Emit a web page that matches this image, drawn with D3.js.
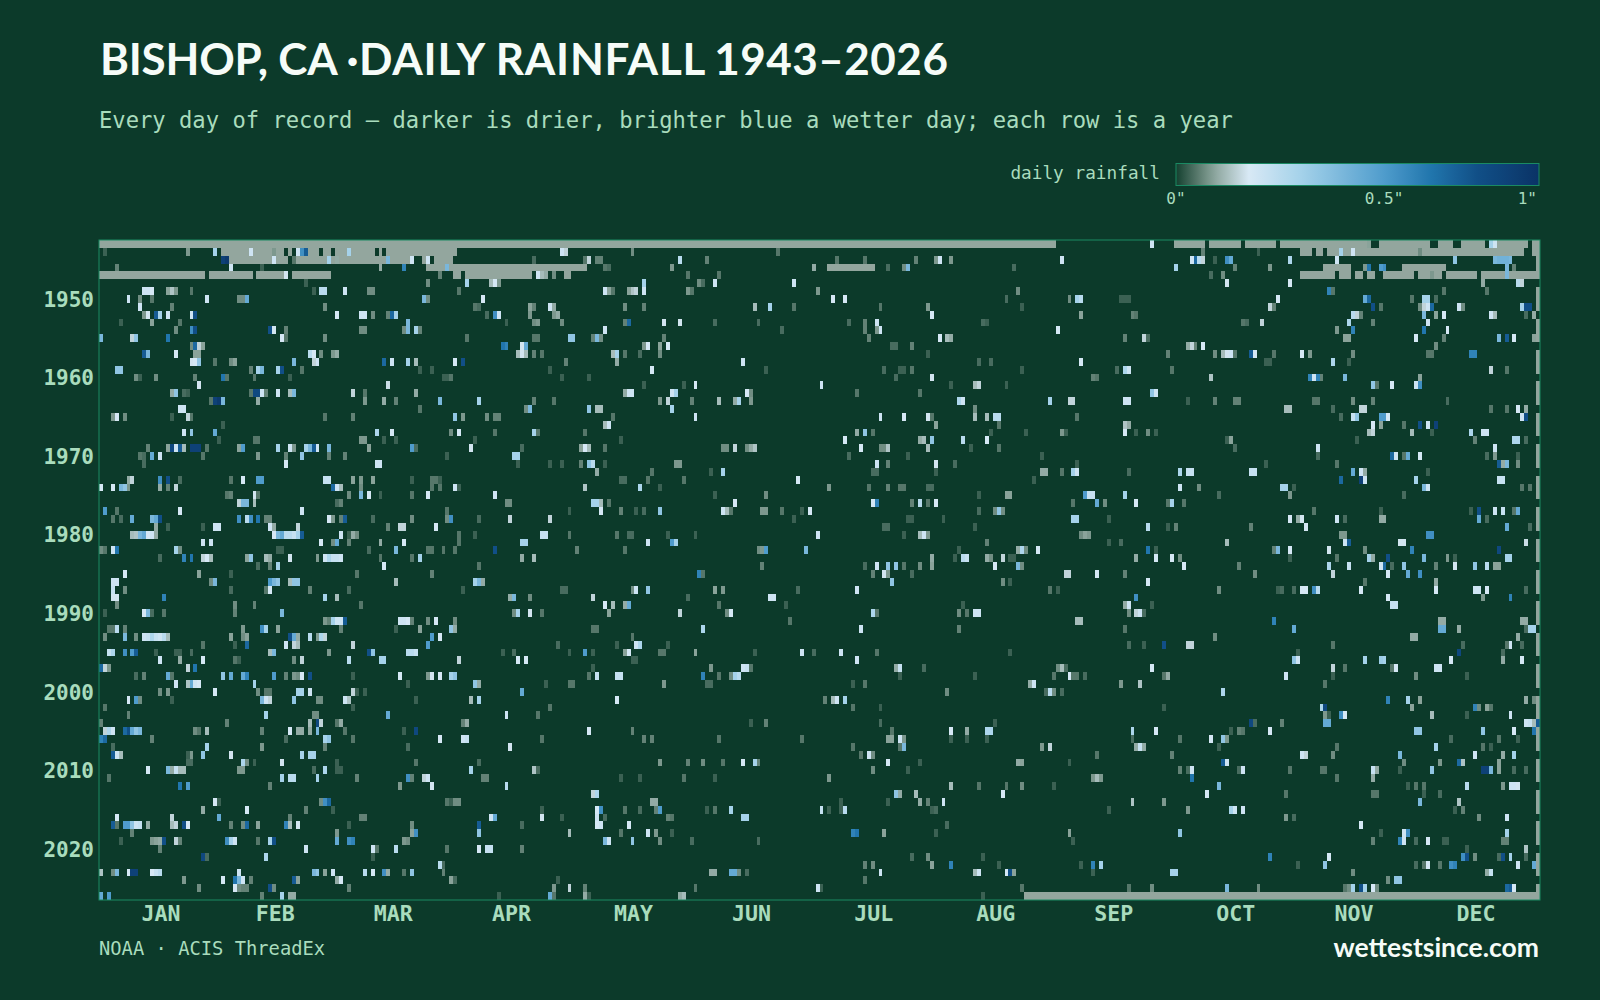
<!DOCTYPE html>
<html>
<head>
<meta charset="utf-8">
<title>Bishop, CA daily rainfall</title>
<script src="https://cdn.jsdelivr.net/npm/d3@7"></script>
<style>
  html, body { margin: 0; background: #0c3a2a; }
  svg { display: block; }
</style>
</head>
<body>
<svg id="chart" width="1600" height="1000"></svg>
<script>
const months = ["JAN","FEB","MAR","APR","MAY","JUN","JUL","AUG","SEP","OCT","NOV","DEC"];
const monthMidDays = [15,44,74,104,135,165,196,227,257,288,318,349];
const years = d3.range(1943, 2027);
const yearTicks = [1950,1960,1970,1980,1990,2000,2010,2020];
const legendTicks = [0, 0.5, 1];

// days with no record: [year, first day, last day], day 0 = Jan 1
const missingSpans = [
  [1943,0,242],[1943,273,280],[1943,282,289],[1943,291,298],[1943,300,322],[1943,325,337],[1943,340,343],[1943,346,351],[1943,355,362],[1943,364,365],
  [1944,31,37],[1944,39,43],[1944,45,46],[1944,48,48],[1944,53,55],[1944,57,58],[1944,60,62],[1944,64,69],[1944,71,71],[1944,73,90],[1944,305,307],[1944,309,310],[1944,312,314],[1944,316,317],[1944,319,334],[1944,336,361],[1944,364,365],
  [1945,33,43],[1945,45,47],[1945,50,57],[1945,59,59],[1945,61,72],[1945,74,78],[1945,82,82],[1945,85,89],
  [1946,83,87],[1946,89,123],[1946,185,196],[1946,311,317],[1946,331,341],
  [1947,0,26],[1947,28,38],[1947,40,46],[1947,49,58],[1947,90,91],[1947,93,109],[1947,118,119],[1947,305,313],[1947,315,317],[1947,319,320],[1947,322,323],[1947,326,333],[1947,335,337],[1947,339,340],[1947,342,349],[1947,351,356],[1947,358,365],
  [2026,235,365]
];

// wet days per year: [day, inches]
const rain1940s = [
  [[267,.2],[322,.09],[353,.3],[354,.2]],
  [[1,.03],[22,.08],[29,.3],[38,.2],[44,.08],[50,.2],[51,.55],[52,.75],[63,.3],[117,.2],[118,.15],[135,.07],[172,.05],[280,.06],[294,.03],[315,.3],[318,.2],[335,.07]],
  [[31,.9],[32,.95],[44,.2],[49,.05],[58,.3],[60,.1],[73,.4],[79,.2],[83,.2],[110,.04],[123,.05],[124,.15],[126,.06],[127,.06],[147,.25],[154,.06],[187,.05],[194,.05],[207,.06],[212,.08],[213,.2],[216,.08],[244,.2],[277,.2],[278,.7],[279,.25],[280,.15],[283,.03],[286,.55],[287,.45],[302,.28],[314,.2],[344,.35],[354,.4],[355,.42],[356,.42],[357,.42],[358,.4]],
  [[4,.06],[33,.2],[41,.03],[71,.1],[77,.6],[88,.4],[128,.05],[129,.04],[145,.08],[181,.1],[200,.04],[204,.07],[205,.4],[232,.04],[273,.3],[288,.06],[297,.08],[321,.08],[322,.65],[325,.5],[326,.55],[357,.4],[359,.06]],
  [[47,.17],[86,.06],[111,.2],[112,.12],[113,.1],[115,.07],[149,.05],[157,.05],[282,.04],[285,.07],[338,.08],[357,.4]],
  [[52,.03],[83,.07],[93,.3],[99,.12],[100,.18],[101,.08],[138,.3],[152,.07],[153,.04],[156,.2],[176,.2],[286,.17],[302,.18],[351,.1],[360,.25],[361,.15]],
  [[11,.2],[12,.2],[13,.18],[17,.09],[18,.13],[19,.08],[23,.05],[54,.03],[56,.25],[57,.25],[62,.2],[68,.07],[69,.07],[91,.05],[128,.2],[129,.09],[130,.05],[134,.09],[135,.13],[136,.15],[138,.2],[149,.08],[150,.05],[182,.08],[233,.07],[312,.6],[313,.05],[341,.05],[352,.05]]
];
const rain1950s = [
  [[7,.2],[10,.07],[13,.05],[27,.2],[35,.07],[36,.07],[37,.45],[82,.4],[83,.07],[97,.18],[186,.18],[189,.18],[230,.04],[246,.07],[248,.3],[249,.25],[259,.03],[260,.03],[261,.03],[299,.18],[321,.45],[322,.7],[333,.05],[336,.3],[337,.3],[339,.04]],
  [[10,.2],[18,.06],[57,.07],[95,.05],[96,.04],[109,.09],[110,.06],[114,.2],[115,.1],[133,.07],[138,.06],[166,.12],[170,.3],[176,.05],[198,.05],[210,.08],[234,.03],[297,.15],[298,.06],[323,.8],[325,.05],[335,.07],[336,.15],[337,.2],[338,.7],[345,.2],[346,.07],[361,.3],[362,.8],[363,.8]],
  [[11,.08],[12,.17],[14,.75],[15,.3],[17,.2],[23,.2],[24,.8],[60,.18],[66,.2],[67,.2],[69,.07],[73,.06],[74,.7],[75,.3],[98,.04],[100,.55],[101,.2],[109,.08],[115,.08],[116,.1],[211,.18],[249,.09],[262,.06],[263,.05],[318,.25],[319,.15],[320,.06],[336,.4],[339,.09],[341,.18],[353,.2],[354,.12],[362,.04],[364,.1]],
  [[5,.03],[13,.09],[20,.05],[78,.4],[103,.03],[110,.07],[111,.08],[117,.07],[133,.06],[134,.7],[143,.17],[147,.17],[156,.04],[167,.04],[190,.04],[194,.06],[197,.2],[224,.04],[225,.03],[290,.05],[291,.04],[295,.15],[317,.28],[323,.06],[337,.2]],
  [[19,.07],[23,.55],[24,.8],[43,.8],[44,.17],[47,.06],[66,.07],[67,.07],[77,.07],[78,.4],[80,.3],[81,.06],[128,.2],[173,.04],[194,.06],[197,.08],[198,.2],[243,.18],[314,.08],[318,.6],[336,.65],[342,.18]],
  [[0,.4],[8,.15],[9,.35],[17,.65],[46,.18],[47,.05],[57,.07],[93,.05],[110,.05],[111,.05],[119,.35],[120,.35],[125,.06],[126,.4],[127,.07],[143,.06],[195,.06],[213,.18],[215,.12],[216,.1],[260,.06],[265,.15],[266,.04],[316,.09],[317,.09],[334,.18],[341,.06],[355,.4],[357,.75],[359,.18],[364,.09]],
  [[23,.07],[24,.7],[25,.15],[26,.09],[102,.65],[103,.6],[107,.17],[108,.45],[138,.08],[139,.18],[142,.09],[144,.18],[201,.04],[202,.04],[206,.06],[276,.1],[277,.15],[278,.06],[280,.18],[339,.07]],
  [[11,.75],[12,.4],[19,.18],[24,.09],[25,.09],[53,.25],[54,.18],[56,.07],[59,.08],[60,.1],[106,.12],[107,.17],[108,.12],[110,.06],[112,.05],[130,.12],[131,.3],[133,.05],[137,.04],[142,.07],[210,.03],[271,.06],[283,.07],[285,.12],[286,.17],[287,.2],[288,.05],[292,.75],[293,.18],[298,.05],[305,.18],[307,.08],[318,.07],[337,.05],[338,.05],[348,.6],[349,.6]],
  [[23,.17],[24,.18],[25,.35],[29,.05],[33,.07],[34,.09],[49,.4],[54,.15],[55,.2],[72,.7],[74,.2],[78,.3],[80,.12],[90,.18],[92,.8],[118,.06],[131,.1],[163,.2],[223,.04],[226,.04],[249,.18],[296,.03],[297,.03],[313,.28],[317,.03]],
  [[4,.35],[5,.35],[38,.06],[40,.3],[41,.4],[45,.3],[46,.8],[51,.05],[81,.03],[84,.03],[114,.03],[140,.18],[169,.03],[199,.04],[203,.03],[204,.03],[206,.05],[234,.03],[258,.04],[260,.28],[261,.2],[272,.05],[353,.15],[357,.05]]
];
const rain1960s = [
  [[9,.07],[10,.03],[14,.07],[24,.06],[31,.65],[32,.05],[39,.05],[48,.03],[87,.03],[88,.03],[89,.05],[117,.03],[124,.03],[202,.04],[211,.17],[252,.06],[253,.05],[282,.13],[307,.6],[308,.2],[309,.6],[310,.06],[316,.4],[335,.09]],
  [[25,.17],[73,.16],[138,.03],[148,.03],[151,.18],[183,.2],[216,.03],[222,.12],[223,.15],[230,.03],[323,.35],[324,.05],[328,.18],[334,.2],[335,.55]],
  [[18,.1],[19,.35],[21,.04],[22,.03],[38,.05],[39,.85],[40,.85],[41,.2],[42,.06],[45,.2],[48,.12],[49,.4],[64,.15],[67,.05],[80,.1],[133,.1],[134,.2],[135,.2],[145,.2],[146,.3],[164,.18],[165,.07],[192,.05],[208,.05],[267,.35],[268,.2]],
  [[28,.05],[29,.9],[30,.95],[31,.4],[40,.1],[67,.08],[72,.1],[75,.06],[86,.4],[96,.3],[110,.06],[115,.05],[142,.08],[144,.15],[150,.06],[157,.12],[161,.1],[162,.3],[165,.08],[218,.28],[219,.2],[241,.3],[246,.15],[247,.15],[260,.2],[261,.2],[276,.03],[283,.06],[288,.06],[289,.06],[308,.05],[309,.05],[318,.07],[323,.06],[342,.04]],
  [[20,.2],[21,.2],[81,.05],[108,.07],[109,.4],[124,.35],[126,.12],[127,.12],[145,.3],[222,.07],[301,.12],[302,.12],[313,.04],[320,.15],[321,.15],[353,.05],[357,.05],[360,.18],[362,.1]],
  [[3,.08],[4,.18],[6,.07],[18,.03],[22,.15],[23,.05],[57,.05],[64,.06],[90,.35],[92,.08],[98,.07],[100,.06],[101,.06],[130,.05],[151,.2],[198,.2],[204,.18],[210,.17],[211,.05],[222,.12],[225,.12],[227,.25],[228,.25],[248,.05],[315,.04],[318,.22],[319,.35],[325,.5],[326,.5],[327,.18],[361,.2],[362,.8]],
  [[31,.03],[128,.12],[129,.2],[212,.09],[228,.05],[260,.13],[261,.1],[323,.18],[325,.09],[331,.05],[335,.8],[337,.2],[339,.9]],
  [[21,.2],[23,.35],[29,.45],[70,.28],[74,.18],[89,.07],[91,.18],[100,.05],[110,.3],[111,.05],[123,.05],[192,.1],[194,.35],[196,.05],[226,.03],[235,.03],[244,.08],[245,.03],[260,.18],[263,.03],[266,.07],[268,.03],[322,.12],[323,.15],[333,.12],[338,.03],[348,.28],[351,.2],[352,.2]],
  [[30,.03],[39,.05],[40,.05],[66,.08],[67,.08],[72,.03],[75,.03],[95,.03],[132,.03],[189,.18],[208,.1],[209,.12],[211,.35],[219,.25],[225,.18],[286,.03],[287,.09],[319,.03],[349,.06],[359,.28],[360,.28],[362,.04]],
  [[12,.06],[17,.09],[18,.85],[19,.2],[20,.75],[21,.12],[23,.9],[24,.9],[25,.9],[27,.05],[35,.09],[36,.5],[45,.3],[48,.2],[49,.08],[52,.3],[53,.4],[54,.75],[55,.2],[58,.4],[68,.09],[79,.5],[80,.04],[94,.17],[107,.04],[122,.09],[123,.18],[124,.12],[128,.05],[158,.07],[159,.07],[161,.15],[164,.07],[165,.1],[166,.13],[193,.18],[198,.07],[199,.07],[200,.13],[210,.12],[221,.03],[228,.05],[288,.04],[309,.2],[354,.2]]
];
const rain1970s = [
  [[10,.05],[11,.04],[13,.45],[15,.2],[26,.05],[40,.08],[47,.06],[51,.35],[58,.06],[62,.06],[88,.03],[105,.3],[106,.3],[190,.04],[205,.03],[239,.03],[309,.04],[328,.7],[329,.2],[331,.05],[332,.45],[335,.18],[352,.04],[354,.08],[360,.03]],
  [[11,.04],[47,.18],[70,.2],[71,.2],[106,.03],[114,.03],[117,.03],[122,.06],[124,.35],[125,.25],[128,.03],[146,.08],[147,.08],[197,.2],[200,.06],[212,.17],[217,.04],[248,.03],[296,.03],[314,.05],[355,.75],[356,.1],[357,.4],[360,.07]],
  [[126,.1],[140,.05],[155,.03],[158,.3],[196,.04],[197,.04],[212,.03],[239,.1],[240,.1],[244,.05],[247,.3],[248,.2],[261,.04],[274,.28],[276,.22],[277,.22],[292,.22],[293,.22],[318,.45],[320,.2],[321,.1],[337,.03]],
  [[7,.1],[8,.15],[15,.55],[17,.8],[20,.04],[33,.05],[36,.18],[40,.5],[41,.5],[57,.22],[58,.22],[64,.09],[66,.08],[69,.09],[79,.03],[84,.05],[85,.05],[86,.03],[132,.04],[133,.04],[139,.05],[148,.05],[177,.18],[237,.03],[315,.7],[320,.9],[321,.2],[334,.3],[355,.22],[356,.22]],
  [[0,.18],[3,.18],[5,.4],[6,.35],[7,.08],[15,.1],[17,.06],[19,.15],[59,.7],[60,.2],[61,.12],[66,.07],[84,.05],[86,.05],[90,.2],[91,.03],[123,.13],[137,.28],[142,.03],[185,.08],[195,.05],[200,.06],[203,.05],[204,.05],[210,.04],[211,.04],[274,.2],[279,.07],[300,.3],[301,.3],[303,.03],[336,.4],[337,.2],[361,.05],[363,.05]],
  [[32,.05],[33,.06],[39,.17],[40,.05],[63,.07],[66,.4],[68,.18],[71,.03],[79,.05],[83,.18],[100,.2],[156,.03],[169,.07],[223,.03],[230,.09],[231,.09],[250,.5],[251,.22],[252,.22],[260,.3],[284,.04],[302,.08],[331,.04]],
  [[35,.15],[36,.4],[37,.4],[39,.12],[60,.04],[61,.06],[103,.07],[104,.07],[125,.3],[126,.3],[127,.12],[129,.05],[161,.18],[196,.18],[197,.6],[206,.06],[208,.25],[210,.05],[212,.18],[247,.05],[253,.45],[255,.07],[263,.18],[271,.05],[272,.3],[275,.05]],
  [[1,.5],[4,.05],[20,.18],[51,.2],[88,.05],[119,.03],[127,.18],[132,.06],[136,.03],[138,.04],[142,.35],[158,.2],[159,.12],[160,.05],[168,.08],[169,.08],[173,.05],[178,.03],[180,.18],[223,.04],[227,.07],[228,.35],[229,.07],[308,.05],[325,.03],[348,.03],[350,.8],[354,.2],[356,.22],[359,.05],[360,.45]],
  [[3,.05],[5,.04],[8,.45],[13,.4],[14,.45],[15,.8],[35,.55],[37,.25],[38,.55],[40,.65],[42,.06],[43,.06],[58,.18],[59,.08],[61,.06],[62,.75],[69,.04],[79,.07],[88,.07],[89,.55],[96,.04],[104,.15],[114,.15],[176,.03],[205,.03],[206,.03],[214,.03],[247,.3],[248,.3],[256,.03],[302,.18],[304,.1],[305,.17],[314,.2],[316,.04],[325,.1],[326,.1],[350,.45],[352,.04]],
  [[14,.1],[17,.03],[26,.03],[29,.2],[30,.2],[43,.2],[44,.1],[50,.15],[73,.06],[76,.15],[77,.15],[85,.18],[199,.04],[200,.04],[222,.03],[266,.25],[271,.03],[273,.06],[292,.06],[306,.18],[357,.45],[363,.04]]
];
const rain1980s = [
  [[8,.12],[9,.13],[10,.4],[11,.45],[12,.18],[13,.2],[14,.1],[44,.18],[45,.4],[46,.45],[47,.25],[48,.25],[49,.22],[50,.3],[51,.75],[61,.2],[63,.03],[64,.1],[65,.07],[91,.05],[95,.03],[112,.22],[113,.22],[119,.05],[131,.05],[134,.04],[135,.04],[144,.03],[151,.03],[182,.2],[204,.03],[208,.12],[209,.2],[210,.08],[249,.07],[250,.09],[251,.08],[315,.08],[316,.08],[337,.55],[338,.55]],
  [[26,.2],[28,.2],[56,.18],[59,.07],[60,.45],[63,.06],[71,.1],[77,.18],[91,.05],[107,.3],[108,.3],[139,.2],[145,.5],[146,.3],[225,.06],[256,.03],[259,.04],[286,.12],[316,.2],[317,.75],[330,.17],[331,.17],[362,.16]],
  [[0,.07],[1,.05],[3,.2],[4,.65],[19,.3],[20,.07],[45,.03],[46,.03],[68,.04],[75,.4],[83,.05],[84,.05],[87,.05],[90,.05],[100,.8],[121,.06],[133,.05],[167,.07],[168,.08],[169,.5],[179,.4],[218,.03],[233,.1],[234,.28],[235,.07],[238,.18],[266,.65],[268,.03],[298,.06],[299,.4],[302,.18],[312,.17],[321,.07],[333,.6],[355,.85]],
  [[15,.04],[21,.6],[23,.65],[26,.15],[27,.18],[28,.12],[37,.09],[38,.35],[42,.12],[43,.1],[48,.17],[55,.08],[57,.2],[58,.28],[59,.22],[60,.22],[61,.2],[71,.05],[79,.05],[81,.3],[107,.1],[110,.12],[211,.1],[217,.03],[219,.25],[220,.22],[225,.1],[226,.07],[229,.15],[231,.03],[232,.03],[263,.1],[268,.18],[272,.18],[274,.07],[302,.03],[314,.05],[322,.3],[323,.1],[327,.8],[336,.4],[342,.08],[344,.03],[357,.3],[358,.3]],
  [[40,.04],[43,.06],[45,.3],[72,.18],[96,.05],[168,.06],[194,.04],[197,.2],[200,.35],[202,.35],[204,.05],[208,.07],[211,.09],[227,.18],[233,.4],[234,.07],[275,.18],[289,.06],[312,.28],[317,.22],[325,.2],[326,.7],[328,.04],[331,.35],[339,.06],[344,.17],[349,.35],[352,.25],[354,.09],[355,.09]],
  [[6,.18],[25,.09],[33,.03],[65,.05],[84,.06],[152,.6],[153,.05],[196,.06],[199,.17],[200,.08],[206,.04],[245,.15],[246,.15],[253,.18],[260,.06],[293,.07],[313,.15],[327,.18],[332,.45],[335,.55]],
  [[3,.2],[4,.2],[28,.07],[29,.4],[43,.5],[44,.4],[45,.35],[48,.12],[49,.35],[50,.35],[75,.12],[95,.3],[96,.4],[97,.1],[201,.35],[229,.07],[231,.03],[266,.18],[321,.05],[339,.1]],
  [[3,.22],[6,.07],[33,.04],[42,.05],[43,.18],[53,.06],[63,.04],[92,.03],[117,.04],[118,.04],[135,.07],[136,.2],[139,.35],[156,.09],[158,.08],[177,.04],[192,.2],[241,.05],[243,.03],[284,.07],[299,.03],[300,.04],[303,.04],[305,.18],[306,.18],[308,.55],[309,.25],[320,.18],[339,.18],[349,.2],[350,.2],[352,.18],[362,.04]],
  [[3,.17],[4,.17],[16,.6],[57,.3],[60,.12],[104,.1],[105,.4],[109,.07],[125,.15],[149,.04],[170,.2],[171,.2],[263,.55],[327,.18],[351,.08],[358,.6]],
  [[4,.07],[34,.07],[39,.06],[66,.05],[128,.18],[130,.12],[133,.1],[134,.45],[157,.05],[174,.03],[219,.03],[260,.1],[261,.2],[267,.03],[328,.22],[329,.22]]
];
const rain1990s = [
  [[1,.03],[11,.18],[12,.4],[13,.04],[16,.05],[34,.06],[46,.4],[105,.07],[106,.3],[109,.17],[112,.05],[129,.09],[147,.15],[159,.07],[160,.18],[196,.28],[197,.05],[218,.07],[220,.05],[222,.2],[223,.2],[261,.07],[263,.15],[264,.2],[265,.04]],
  [[57,.08],[58,.06],[59,.3],[60,.2],[61,.2],[62,.75],[76,.2],[77,.2],[78,.18],[79,.06],[83,.07],[85,.18],[90,.07],[175,.05],[248,.12],[249,.12],[298,.6],[340,.1],[341,.1],[361,.1],[362,.1]],
  [[2,.05],[3,.05],[4,.25],[6,.06],[36,.08],[41,.55],[42,.3],[45,.09],[61,.06],[75,.03],[81,.09],[89,.35],[90,.1],[125,.05],[126,.05],[153,.28],[193,.2],[218,.06],[260,.05],[303,.45],[340,.45],[341,.45],[345,.1],[362,.04],[363,.3],[364,.3]],
  [[1,.07],[6,.4],[9,.07],[11,.2],[12,.22],[13,.28],[14,.22],[15,.2],[16,.25],[17,.12],[33,.09],[36,.07],[37,.09],[48,.8],[49,.45],[50,.1],[53,.25],[55,.08],[56,.28],[57,.15],[84,.5],[86,.18],[135,.05],[283,.07],[333,.1],[334,.1],[360,.1]],
  [[26,.05],[34,.03],[37,.7],[47,.2],[49,.15],[50,.12],[64,.15],[83,.5],[116,.04],[131,.03],[136,.2],[137,.28],[144,.03],[261,.04],[265,.03],[270,.8],[276,.15],[277,.15],[313,.05],[346,.04],[357,.05],[358,.2],[361,.04]],
  [[2,.22],[3,.28],[6,.55],[8,.5],[9,.75],[14,.03],[19,.03],[20,.03],[23,.04],[43,.12],[44,.4],[58,.08],[68,.8],[69,.35],[78,.25],[79,.25],[80,.22],[102,.03],[105,.04],[119,.03],[123,.5],[125,.03],[133,.09],[134,.18],[142,.05],[143,.05],[151,.09],[166,.03],[178,.2],[181,.04],[188,.2],[197,.05],[231,.03],[304,.03],[345,.85],[356,.04]],
  [[15,.2],[20,.1],[26,.18],[34,.05],[35,.03],[49,.07],[51,.15],[63,.25],[71,.3],[72,.3],[91,.15],[106,.18],[108,.18],[135,.03],[136,.03],[192,.2],[303,.35],[304,.2],[321,.3],[325,.32],[326,.3],[343,.18],[356,.1],[361,.18]],
  [[0,.7],[1,.15],[2,.08],[22,.15],[24,.65],[125,.03],[155,.08],[163,.2],[164,.22],[165,.05],[202,.1],[203,.22],[209,.04],[243,.07],[244,.12],[245,.04],[267,.18],[313,.15],[316,.05],[328,.05],[329,.18],[339,.2],[340,.2]],
  [[9,.04],[11,.06],[17,.45],[18,.05],[31,.35],[33,.45],[36,.45],[37,.6],[44,.5],[47,.06],[49,.08],[50,.07],[51,.18],[53,.8],[64,.03],[76,.18],[83,.08],[84,.17],[86,.18],[89,.3],[90,.35],[124,.05],[126,.22],[131,.22],[132,.22],[153,.6],[157,.05],[160,.07],[161,.3],[162,.25],[203,.03],[222,.03],[242,.05],[246,.18],[247,.05],[248,.05],[250,.04],[270,.05],[271,.1],[301,.2],[313,.03],[334,.07],[347,.03]],
  [[19,.2],[22,.13],[23,.45],[24,.2],[25,.18],[39,.3],[78,.03],[95,.35],[96,.1],[113,.03],[119,.05],[120,.05],[143,.08],[154,.04],[155,.04],[191,.03],[194,.05],[236,.1],[237,.2],[259,.08],[264,.13],[311,.05]]
];
const rain2000s = [
  [[15,.07],[17,.08],[29,.18],[40,.07],[42,.05],[43,.05],[50,.3],[51,.3],[53,.2],[64,.15],[65,.03],[67,.03],[107,.45],[215,.07],[240,.04],[241,.25],[242,.07],[244,.04],[285,.28]],
  [[7,.18],[9,.5],[10,.07],[18,.03],[41,.4],[42,.2],[43,.15],[49,.35],[55,.07],[56,.07],[62,.2],[63,.13],[80,.03],[94,.12],[96,.3],[131,.18],[184,.06],[186,.12],[187,.2],[189,.3],[327,.6],[332,.3],[335,.09],[362,.1],[364,.07]],
  [[1,.05],[64,.03],[114,.05],[191,.05],[198,.03],[270,.03],[310,.28],[311,.85],[333,.09],[349,.6],[350,.07],[352,.09],[353,.05]],
  [[7,.06],[42,.3],[54,.07],[55,.07],[73,.45],[103,.2],[111,.05],[311,.08],[312,.03],[315,.55],[316,.18],[338,.12],[347,.03],[358,.2]],
  [[0,.06],[32,.06],[53,.12],[55,.85],[56,.15],[60,.05],[61,.1],[92,.06],[93,.1],[165,.03],[169,.06],[198,.04],[227,.03],[292,.85],[293,.04],[300,.06],[311,.45],[312,.45],[362,.2],[363,.22],[364,.12],[365,.75]],
  [[1,.15],[2,.28],[3,.2],[6,.7],[7,.8],[8,.45],[9,.35],[10,.4],[24,.07],[25,.05],[27,.12],[41,.06],[48,.18],[50,.1],[51,.1],[53,.1],[55,.4],[62,.05],[77,.03],[80,.85],[124,.18],[135,.06],[201,.05],[216,.18],[220,.1],[225,.28],[226,.28],[262,.28],[268,.18],[287,.03],[289,.06],[290,.05],[297,.18],[334,.35],[335,.35],[351,.35],[359,.18],[364,.65]],
  [[0,.6],[1,.7],[13,.06],[47,.04],[57,.3],[58,.35],[64,.05],[86,.18],[92,.2],[93,.22],[112,.05],[138,.06],[140,.06],[157,.05],[178,.05],[200,.09],[201,.09],[203,.2],[204,.08],[216,.03],[220,.03],[225,.03],[262,.04],[274,.05],[282,.18],[285,.35],[286,.08],[343,.04],[355,.05],[360,.03]],
  [[3,.04],[27,.3],[41,.08],[57,.06],[78,.04],[104,.17],[191,.05],[203,.05],[204,.4],[239,.08],[241,.15],[263,.1],[264,.22],[265,.1],[284,.03],[314,.05],[339,.3],[351,.05],[353,.03]],
  [[3,.75],[4,.2],[5,.12],[22,.03],[23,.08],[26,.35],[33,.17],[51,.3],[53,.3],[54,.3],[193,.05],[195,.2],[196,.07],[253,.05],[272,.06],[305,.2],[306,.15],[313,.07],[330,.4],[349,.2],[356,.1],[359,.3]],
  [[22,.04],[23,.04],[36,.28],[37,.07],[39,.03],[46,.17],[60,.03],[80,.05],[96,.04],[142,.08],[149,.06],[153,.07],[158,.05],[163,.18],[166,.3],[167,.06],[200,.18],[208,.03],[233,.1],[234,.09],[246,.03],[285,.75],[286,.2],[331,.07],[340,.08],[345,.7],[346,.13],[355,.09]]
];
const rain2010s = [
  [[12,.18],[17,.4],[18,.1],[19,.22],[20,.12],[21,.12],[35,.08],[36,.08],[54,.04],[57,.28],[60,.03],[61,.03],[94,.3],[110,.13],[111,.04],[196,.07],[205,.03],[274,.06],[276,.04],[277,.2],[289,.04],[290,.2],[302,.05],[310,.05],[311,.05],[323,.22],[324,.1],[330,.03],[338,.35],[351,.9],[352,.9],[353,.4],[355,.09],[359,.04],[362,.04]],
  [[2,.05],[46,.3],[48,.25],[49,.25],[55,.3],[65,.06],[78,.55],[79,.06],[82,.15],[83,.2],[97,.06],[98,.06],[132,.03],[137,.03],[148,.05],[156,.03],[185,.08],[252,.08],[253,.12],[254,.08],[277,.65],[314,.05],[323,.1]],
  [[20,.65],[22,.5],[43,.06],[76,.08],[84,.17],[103,.25],[216,.12],[223,.05],[230,.05],[234,.07],[242,.03],[284,.4],[332,.03],[334,.05],[336,.05],[347,.25],[356,.08],[358,.2],[359,.2],[360,.17]],
  [[125,.15],[126,.28],[202,.35],[203,.1],[207,.12],[229,.18],[281,.18],[301,.05],[323,.05],[324,.05],[336,.03],[340,.04]],
  [[29,.18],[30,.03],[56,.07],[57,.55],[58,.7],[88,.05],[89,.03],[90,.07],[91,.07],[140,.1],[141,.1],[188,.03],[200,.03],[208,.1],[210,.06],[214,.2],[262,.13],[270,.08],[335,.4],[345,.13]],
  [[26,.1],[37,.18],[52,.06],[59,.03],[112,.03],[126,.18],[127,.55],[133,.05],[137,.04],[141,.06],[142,.5],[154,.03],[156,.05],[160,.3],[183,.22],[185,.03],[188,.03],[189,.25],[211,.03],[212,.04],[256,.03],[276,.08],[287,.3],[288,.2],[290,.2],[344,.03],[346,.06]],
  [[4,.18],[18,.15],[30,.45],[48,.06],[66,.06],[67,.06],[99,.2],[100,.45],[112,.17],[117,.03],[126,.2],[128,.04],[144,.06],[145,.05],[163,.3],[164,.3],[301,.08],[303,.04],[350,.07],[357,.2]],
  [[3,.75],[4,.05],[6,.5],[7,.5],[8,.35],[9,.2],[10,.22],[12,.1],[18,.12],[19,.15],[21,.8],[22,.18],[33,.06],[36,.07],[37,.7],[40,.09],[47,.6],[48,.12],[50,.17],[63,.03],[79,.07],[96,.75],[107,.04],[126,.18],[127,.2],[134,.18],[215,.04],[320,.18]],
  [[8,.06],[60,.08],[79,.09],[80,.55],[96,.35],[119,.12],[132,.05],[139,.2],[141,.08],[145,.03],[191,.6],[192,.65],[199,.09],[212,.03],[246,.09],[274,.35],[325,.03],[331,.2],[332,.55],[357,.3]],
  [[5,.03],[13,.08],[14,.09],[15,.1],[16,.8],[19,.15],[20,.06],[32,.55],[33,.3],[34,.2],[40,.05],[43,.3],[44,.8],[60,.45],[63,.55],[64,.6],[77,.08],[78,.07],[128,.4],[129,.2],[135,.35],[142,.07],[150,.04],[167,.04],[247,.03],[323,.06],[330,.6],[331,.2],[334,.04],[337,.18],[341,.03],[342,.03],[356,.06],[357,.06]]
];
const rain2020s = [
  [[15,.06],[52,.2],[69,.2],[70,.05],[75,.25],[88,.05],[96,.18],[98,.22],[99,.22],[107,.06],[347,.03],[362,.13]],
  [[26,.85],[27,.04],[42,.28],[69,.03],[206,.04],[210,.07],[224,.03],[297,.6],[312,.18],[346,.55],[347,.8],[349,.07],[355,.04],[356,.8],[358,.3],[362,.04]],
  [[86,.25],[87,.04],[194,.06],[196,.07],[211,.09],[216,.6],[228,.03],[249,.03],[252,.6],[254,.3],[304,.03],[311,.35],[334,.04],[336,.05],[337,.18],[340,.05],[343,.55],[344,.6],[360,.2],[364,.45]],
  [[0,.13],[3,.07],[4,.4],[7,.18],[8,.9],[9,.9],[13,.18],[14,.22],[15,.25],[35,.2],[54,.4],[55,.35],[57,.09],[59,.2],[67,.25],[69,.18],[72,.55],[73,.1],[77,.05],[79,.35],[87,.06],[155,.1],[156,.1],[160,.45],[161,.45],[162,.07],[164,.04],[198,.2],[222,.12],[223,.2],[230,.18],[231,.8],[232,.09],[252,.03],[272,.3],[273,.3],[318,.07],[352,.1],[353,.22]],
  [[21,.08],[31,.18],[34,.65],[35,.4],[36,.2],[38,.06],[49,.75],[50,.09],[60,.1],[61,.18],[89,.09],[90,.04],[116,.03],[194,.05],[327,.07],[329,.35],[330,.35]],
  [[25,.07],[34,.18],[35,.07],[36,.06],[37,.06],[43,.8],[44,.07],[63,.06],[115,.08],[119,.15],[123,.06],[151,.05],[182,.2],[183,.03],[234,.05],[261,.05],[267,.07],[286,.4],[294,.07],[316,.05],[317,.07],[318,.3],[320,.8],[321,.3],[323,.18],[324,.07],[357,.7],[358,.75],[359,.18]],
  [[0,.45],[2,.5],[41,.06],[46,.3],[48,.1],[49,.1],[101,.03],[114,.45],[115,.05],[123,.1],[124,.03],[147,.1],[148,.12],[224,.03]]
];

const dailyRain = [...rain1940s, ...rain1950s, ...rain1960s, ...rain1970s, ...rain1980s, ...rain1990s, ...rain2000s, ...rain2010s, ...rain2020s];

const BG = "#0c3a2a", MISSING = "#93a69e", FRAME = "#1a8a63", TEXT = "#a9dcbd", WHITE = "#f6fcf8";
const MONO = "'DejaVu Sans Mono', monospace", SANS = "Lato, 'Open Sans', sans-serif";
const margins = { left: 99, right: 60, top: 240, bottom: 100 };
const width = 1600, height = 1000;

const svg = d3.select("#chart");

const xDay = d3.scaleBand().domain(d3.range(366)).range([margins.left, width - margins.right]);
const yYear = d3.scaleBand().domain(years).range([margins.top, height - margins.bottom]);

// dark at zero, near white for a trace, then down the blues
const colorScale = d3.scaleLinear()
    .domain([0, 0.09, 0.175, 0.3, 0.5, 0.65, 0.8, 1])
    .range(["#14402f", "#8aa39a", "#d8e9f5", "#a5d2ea", "#4f9ccc", "#2176ad", "#114f87", "#0a3366"])
    .clamp(true);

svg.append("rect").attr("width", width).attr("height", height).attr("fill", BG);

// missing days first, rain on top
const missingCells = [];
missingSpans.forEach(([year, a, b]) => {
    d3.range(a, b + 1).forEach(day => missingCells.push({ year, day }));
});
// column 365 only exists in leap years
years.forEach(year => {
    if (year % 4 !== 0) missingCells.push({ year, day: 365 });
});

const cells = svg.append("g").attr("shape-rendering", "crispEdges");

cells.selectAll("rect.missing")
    .data(missingCells)
    .enter()
    .append("rect")
    .attr("class", "missing")
    .attr("x", d => xDay(d.day))
    .attr("y", d => yYear(d.year))
    .attr("width", xDay.bandwidth())
    .attr("height", yYear.bandwidth())
    .attr("fill", MISSING);

const wetCells = dailyRain.flatMap((row, i) => row.map(([day, inches]) => ({ year: years[i], day, inches })));

cells.selectAll("rect.wet")
    .data(wetCells)
    .enter()
    .append("rect")
    .attr("class", "wet")
    .attr("x", d => xDay(d.day))
    .attr("y", d => yYear(d.year))
    .attr("width", xDay.bandwidth())
    .attr("height", yYear.bandwidth())
    .attr("fill", d => colorScale(d.inches));

svg.append("rect")
    .attr("x", margins.left).attr("y", margins.top)
    .attr("width", width - margins.left - margins.right)
    .attr("height", height - margins.top - margins.bottom)
    .attr("fill", "none").attr("stroke", FRAME).attr("stroke-width", 1);

// axes
const yAxis = svg.append("g")
    .attr("transform", `translate(${margins.left},1)`)
    .call(d3.axisLeft(yYear).tickValues(yearTicks).tickSize(0).tickPadding(5));
const xAxis = svg.append("g")
    .attr("transform", `translate(1,${height - margins.bottom})`)
    .call(d3.axisBottom(xDay).tickValues(monthMidDays).tickFormat((d, i) => months[i]).tickSize(0).tickPadding(6));
[yAxis, xAxis].forEach(axis => {
    axis.select(".domain").remove();
    axis.selectAll("text")
        .attr("fill", TEXT)
        .style("font-family", MONO)
        .style("font-weight", "700")
        .style("font-size", "21px");
});
xAxis.selectAll("text").style("font-size", "21.6px");

// title block
const title = svg.append("text").attr("x", 100).attr("y", 75)
    .attr("fill", WHITE)
    .style("font-family", SANS).style("font-weight", "700").style("font-size", "44px");
title.append("tspan").style("letter-spacing", "-0.2px").text("BISHOP, CA ·");
title.append("tspan").attr("dx", -2).text(" ");
title.append("tspan").attr("dx", -8).style("letter-spacing", "0.75px").text("DAILY RAINFALL ");
title.append("tspan").attr("dx", -2).style("letter-spacing", "0.5px").text("1943–2026");

svg.append("text").attr("x", 99).attr("y", 128)
    .attr("fill", TEXT)
    .style("font-family", MONO).style("font-size", "22.16px")
    .text("Every day of record — darker is drier, brighter blue a wetter day; each row is a year");

// legend
const legendX = d3.scaleLinear().domain([0, 0.5, 1]).range([1176, 1384, 1539]);
const defs = svg.append("defs");
const grad = defs.append("linearGradient").attr("id", "rain-grad");
d3.range(0, 1.001, 0.025).forEach(v => {
    grad.append("stop")
        .attr("offset", (legendX(v) - 1176) / (1539 - 1176))
        .attr("stop-color", colorScale(v));
});

svg.append("rect")
    .attr("x", 1176).attr("y", 163.5).attr("width", 363).attr("height", 22)
    .attr("fill", "url(#rain-grad)").attr("stroke", FRAME).attr("stroke-width", 1);

svg.append("text").attr("x", 1160).attr("y", 179).attr("text-anchor", "end")
    .attr("fill", TEXT)
    .style("font-family", MONO).style("font-size", "17.76px")
    .text("daily rainfall");

svg.selectAll("text.legend-tick")
    .data(legendTicks)
    .enter()
    .append("text")
    .attr("class", "legend-tick")
    .attr("x", d => d === 1 ? 1537 : legendX(d))
    .attr("y", 204)
    .attr("text-anchor", d => d === 1 ? "end" : "middle")
    .attr("fill", TEXT)
    .style("font-family", MONO).style("font-size", "16px")
    .text(d => d + '"');

// footer
svg.append("text").attr("x", 99).attr("y", 955)
    .attr("fill", TEXT)
    .style("font-family", MONO).style("font-size", "18.8px")
    .text("NOAA · ACIS ThreadEx");

svg.append("text").attr("x", 1539).attr("y", 957).attr("text-anchor", "end")
    .attr("fill", WHITE)
    .style("font-family", SANS).style("font-weight", "700").style("font-size", "26.5px")
    .text("wettestsince.com");
</script>
</body>
</html>
